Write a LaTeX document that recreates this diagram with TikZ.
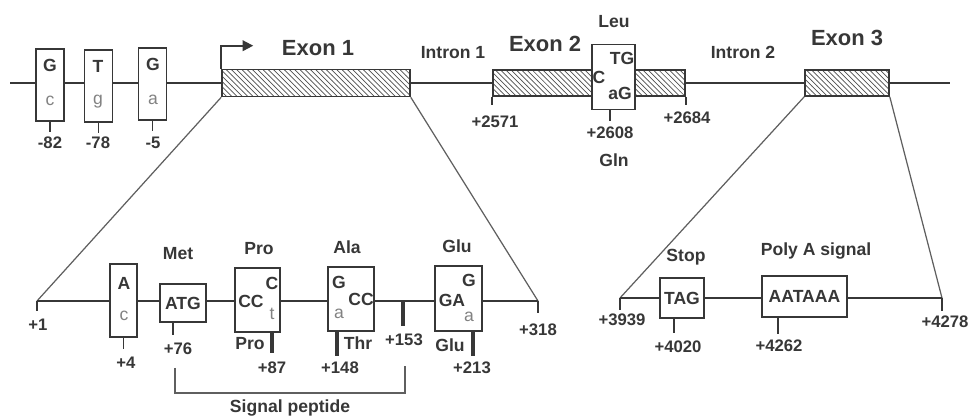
\documentclass[tikz,border=0pt]{standalone}
\usepackage{fontspec}
\setmainfont{Liberation Sans}
\usepackage{xcolor}
\usepackage{tikz}
\usetikzlibrary{positioning,arrows.meta,patterns}
\definecolor{ink}{RGB}{55,55,55}
\definecolor{softink}{RGB}{130,130,130}
\definecolor{hatchgray}{RGB}{80,80,80}

\begin{document}
\begin{tikzpicture}[x=0.02cm,y=-0.02cm,
  dna/.style={draw=ink,line width=1.1pt},
  zoomline/.style={draw=ink!80,line width=0.7pt},
  site/.style={draw=ink,fill=white,line width=0.8pt,inner sep=0pt},
  exon/.style={draw=ink,line width=0.9pt,preaction={fill=white},pattern=north west lines,pattern color=hatchgray,inner sep=0pt},
  lbl/.style={font=\bfseries\fontsize{10}{12}\selectfont,text=ink,inner sep=0pt},
  big/.style={font=\bfseries\fontsize{12.5}{14}\selectfont,text=ink,inner sep=0pt},
  num/.style={font=\bfseries\fontsize{9.5}{11}\selectfont,text=ink,inner sep=0pt},
  minor/.style={font=\fontsize{10}{12}\selectfont,text=softink,inner sep=0pt},
  tk/.style={draw=ink,line width=0.9pt},
  tkbold/.style={draw=ink,line width=2.2pt}]
  \useasboundingbox (0,0) rectangle (970,418);
  % genomic line
  \coordinate (g0) at (10,83);
  \coordinate (g1) at (950,83);
  \draw[dna] (g0) -- (g1);
  % promoter polymorphisms
  \node[site,minimum width=0.56cm,minimum height=1.44cm] (p1) at (50,85) {};
  \node[site,minimum width=0.56cm,minimum height=1.44cm] (p2) at (98.5,86) {};
  \node[site,minimum width=0.56cm,minimum height=1.44cm] (p3) at (152.5,84) {};
  \node[lbl] (p1a) at (50,65) {G};   \node[minor] (p1b) at (50,101) {c};
  \node[lbl] (p2a) at (98,66) {T};   \node[minor] (p2b) at (98,102) {g};
  \node[lbl] (p3a) at (153,64) {G};  \node[minor] (p3b) at (153,100) {a};
  \draw[tk] (p1.south) -- ++(0,10);
  \draw[tk] (p2.south) -- ++(0,10);
  \draw[tk] (p3.south) -- ++(0,10);
  \node[num] (n82) at (50,143) {-82};
  \node[num] (n78) at (98,143) {-78};
  \node[num] (n5) at (153,143) {-5};
  % exons
  \node[exon,minimum width=3.76cm,minimum height=0.54cm] (ex1) at (316,83) {};
  \node[exon,minimum width=3.84cm,minimum height=0.52cm] (ex2) at (589,83) {};
  \node[exon,minimum width=1.68cm,minimum height=0.52cm] (ex3) at (847,83) {};
  \draw[ink,line width=1.1pt,-{Triangle[length=6pt,width=6pt]}] (ex1.north west) -- ++(0,-23) -- ++(32,0);
  \node[big] (l1) at (318,48) {Exon 1};
  \node[lbl] (i1) at (453,53) {Intron 1};
  \node[big] (l2) at (545,44) {Exon 2};
  \node[lbl] (i2) at (743,52) {Intron 2};
  \node[big] (l3) at (847,38) {Exon 3};
  % exon 2 Leu/Gln site
  \node[site,minimum width=0.86cm,minimum height=1.3cm] (lq) at (613.5,77) {};
  \node[lbl] (lqa) at (622,58) {TG};
  \node[lbl] (lqb) at (599,77) {C};
  \node[lbl] (lqc) at (620,93) {aG};
  \node[lbl] (leu) at (614,22) {Leu};
  \node[lbl] (gln) at (614,160) {Gln};
  \draw[tk] ([xshift=-0.07cm]lq.south) -- ++(0,11);
  \draw[tk] (ex2.south west) -- ++(0,8);
  \draw[tk] (ex2.south east) -- ++(0,8);
  \node[num] (n2571) at (495,122) {+2571};
  \node[num] (n2608) at (610,133) {+2608};
  \node[num] (n2684) at (687,118) {+2684};
  % exon 1 zoom
  \coordinate (s1) at (37,301);
  \coordinate (e1) at (538,301);
  \draw[zoomline] (ex1.south west) -- (s1);
  \draw[zoomline] (ex1.south east) -- (e1);
  \draw[dna,line width=0.9pt] (s1) -- (e1);
  \draw[tk] (s1) -- ++(0,10);
  \draw[tk] (e1) -- ++(0,12);
  \node[num] (n1) at (38,325) {+1};
  \node[num] (n318) at (538,330) {+318};
  \node[site,minimum width=0.54cm,minimum height=1.46cm] (b4) at (123.5,300.5) {};
  \node[lbl] (b4a) at (124,283) {A};  \node[minor] (b4b) at (124,316) {c};
  \draw[tk] (b4.south) -- ++(0,11);
  \node[num] (n4) at (126,363) {+4};
  \node[site,lbl,minimum width=0.92cm,minimum height=0.76cm] (atg) at (183,303) {ATG};
  \node[lbl] (met) at (178,254) {Met};
  \draw[tk] ([xshift=-0.2cm]atg.south) -- ++(0,12);
  \node[num] (n76) at (178,349) {+76};
  \node[site,minimum width=0.9cm,minimum height=1.28cm] (b87) at (257.5,300) {};
  \node[lbl] (b87a) at (251,301) {CC};
  \node[lbl] (b87b) at (272,283) {C};
  \node[minor] (b87c) at (272,314) {t};
  \node[lbl] (pro1) at (259,249) {Pro};
  \node[lbl] (pro2) at (250,344) {Pro};
  \draw[tkbold] ([xshift=0.29cm]b87.south) -- ++(0,20);
  \node[num] (n87) at (272,368) {+87};
  \node[site,minimum width=0.92cm,minimum height=1.28cm] (b148) at (351,299) {};
  \node[lbl] (b148a) at (339,282) {G};
  \node[lbl] (b148b) at (361,299) {CC};
  \node[minor] (b148c) at (339,314) {a};
  \node[lbl] (ala) at (347,247) {Ala};
  \node[lbl] (thr) at (358,343) {Thr};
  \draw[tkbold] ([xshift=-0.28cm]b148.south) -- ++(0,24);
  \node[num] (n148) at (340,368) {+148};
  \coordinate (c153) at (403,302);
  \draw[tkbold] (c153) -- ++(0,24);
  \node[num] (n153) at (404,340) {+153};
  \node[site,minimum width=0.94cm,minimum height=1.3cm] (b213) at (458.5,298.5) {};
  \node[lbl] (b213a) at (469,280) {G};
  \node[lbl] (b213b) at (452,300) {GA};
  \node[minor] (b213c) at (469,317) {a};
  \node[lbl] (glu1) at (457,246) {Glu};
  \node[lbl] (glu2) at (450,345) {Glu};
  \draw[tkbold] ([xshift=0.29cm]b213.south) -- ++(0,24);
  \node[num] (n213) at (472,368) {+213};
  % signal peptide bracket
  \coordinate (sp1) at (175,368);
  \coordinate (sp2) at (405,366);
  \draw[zoomline] (sp1) -- ++(0,25) -| (sp2);
  \node[lbl] (sig) at (290,408) {Signal peptide};
  % exon 3 zoom
  \coordinate (s2) at (620,298);
  \coordinate (e2) at (942,298);
  \draw[zoomline] (ex3.south west) -- (s2);
  \draw[zoomline] (ex3.south east) -- (e2);
  \draw[dna,line width=0.9pt] (s2) -- (e2);
  \draw[tk] (s2) -- ++(0,12);
  \draw[tk] (e2) -- ++(0,13);
  \node[num] (n3939) at (622,320) {+3939};
  \node[num] (n4278) at (945,322) {+4278};
  \node[site,lbl,minimum width=0.88cm,minimum height=0.8cm] (tag) at (682,298) {TAG};
  \node[lbl] (stop) at (686,257) {Stop};
  \draw[tk] ([xshift=-0.16cm]tag.south) -- ++(0,14);
  \node[num] (n4020) at (678,347) {+4020};
  \node[site,lbl,minimum width=1.7cm,minimum height=0.82cm] (pas) at (804.5,296.5) {AATAAA};
  \node[lbl] (poly) at (816,251) {Poly A signal};
  \draw[tk] ([xshift=-0.53cm]pas.south) -- ++(0,16);
  \node[num] (n4262) at (779,346) {+4262};
\end{tikzpicture}
\end{document}
